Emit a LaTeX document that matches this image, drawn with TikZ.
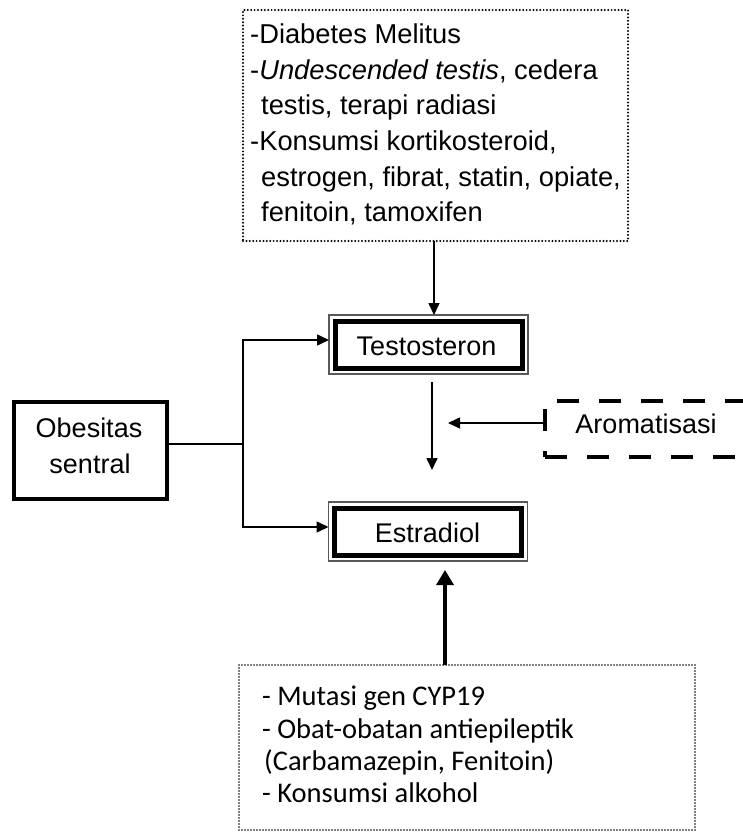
\documentclass[tikz,border=0pt]{standalone}
\usepackage{fontspec}
\setmainfont{Liberation Sans}
\newfontfamily\carlito{Carlito}
\usetikzlibrary{arrows.meta,calc}
\begin{document}
\begin{tikzpicture}[x=1pt,y=-1pt,
  thinarrow/.style={line width=1.6pt,-{Triangle[length=12pt,width=11pt]}},
  thickarrow/.style={line width=3.2pt,-{Triangle[length=15pt,width=17pt]}},
  outerbox/.style={draw=black!65,line width=1.2pt,minimum width=199pt,minimum height=59pt,inner sep=0pt,outer sep=0pt},
  innerbox/.style={draw,line width=5pt,minimum width=187pt,minimum height=47pt,inner sep=0pt,outer sep=0pt},
  dotbox/.style={draw,line width=2.2pt,dash pattern=on 0pt off 3.4pt,line cap=round,inner sep=0pt,outer sep=0pt},
  finedotbox/.style={draw,line width=1.7pt,dash pattern=on 0pt off 3pt,line cap=round,inner sep=0pt,outer sep=0pt},
  dashbox/.style={draw,line width=4pt,dash pattern=on 22pt off 20pt,inner sep=0pt,outer sep=0pt},
  solidbox/.style={draw,line width=3.5pt,inner sep=0pt,outer sep=0pt},
  toptext/.style={anchor=base west,inner sep=0pt,font=\fontsize{27.3}{35}\selectfont},
  bottext/.style={anchor=base west,inner sep=0pt,font=\carlito\fontsize{28.5}{33}\selectfont},
  bigtext/.style={anchor=base,inner sep=0pt,font=\fontsize{27}{37}\selectfont}
]
\useasboundingbox (0,0) rectangle (743,832);

% top dotted box
\node[dotbox,minimum width=385pt,minimum height=231pt] (top) at (435.5,125.5) {};
\node[toptext] (t1) at (250,44) {-Diabetes Melitus};
\node[toptext] (t2) at (250,79.5) {-\textit{Undescended testis}, cedera};
\node[toptext] (t3) at (261,115) {testis, terapi radiasi};
\node[toptext] (t4) at (250,150.5) {-Konsumsi kortikosteroid,};
\node[toptext] (t5) at (261,186) {estrogen, fibrat, statin, opiate,};
\node[toptext] (t6) at (261,221.5) {fenitoin, tamoxifen};

% Testosteron
\node[outerbox] (tesO) at (428.5,344.5) {};
\node[innerbox] (tes) at (428.5,344.5) {};
\node[bigtext] (testxt) at (426.5,355) {Testosteron};

% Estradiol
\node[outerbox] (estO) at (428,531.5) {};
\node[innerbox] (est) at (428,531.5) {};
\node[bigtext] (esttxt) at (427.5,542) {Estradiol};

% Obesitas
\node[solidbox,minimum width=153pt,minimum height=97pt] (obs) at (90.5,450.5) {};
\node[bigtext] (obs1) at (89,437) {Obesitas};
\node[bigtext] (obs2) at (90,473) {sentral};

% Aromatisasi
\node[dashbox,minimum width=220pt,minimum height=56pt] (aro) at (655,429) {};
\node[bigtext] (arotxt) at (646,433) {Aromatisasi};

% bottom box
\node[finedotbox,minimum width=456pt,minimum height=165pt] (bot) at (467,747.5) {};
\node[bottext] (b1) at (262,705) {- Mutasi gen CYP19};
\node[bottext] (b2) at (262,738) {- Obat-obatan antiepileptik};
\node[bottext] (b3) at (264,770) {(Carbamazepin, Fenitoin)};
\node[bottext] (b4) at (262,802) {- Konsumsi alkohol};

% connectors
\coordinate (tx) at (434,0);
\draw[thinarrow] (top.south -| tx) -- (tesO.north -| tx);

\coordinate (sp) at (243,444);
\draw[line width=1.6pt] (obs.east |- sp) -- (sp);
\draw[thinarrow] (sp) |- ([yshift=4.5pt]tesO.west);
\draw[thinarrow] (sp) |- ([yshift=4.5pt]estO.west);

\coordinate (mx) at (432,0);
\draw[thinarrow,shorten <=8pt,shorten >=32pt] (tesO.south -| mx) -- (estO.north -| mx);

\coordinate (aroTip) at (448,423);
\draw[thinarrow] ([yshift=6pt]aro.west) -- (aroTip);

\coordinate (bx) at (445,0);
\draw[thickarrow,shorten >=9pt] (bot.north -| bx) -- (estO.south -| bx);
\end{tikzpicture}
\end{document}
